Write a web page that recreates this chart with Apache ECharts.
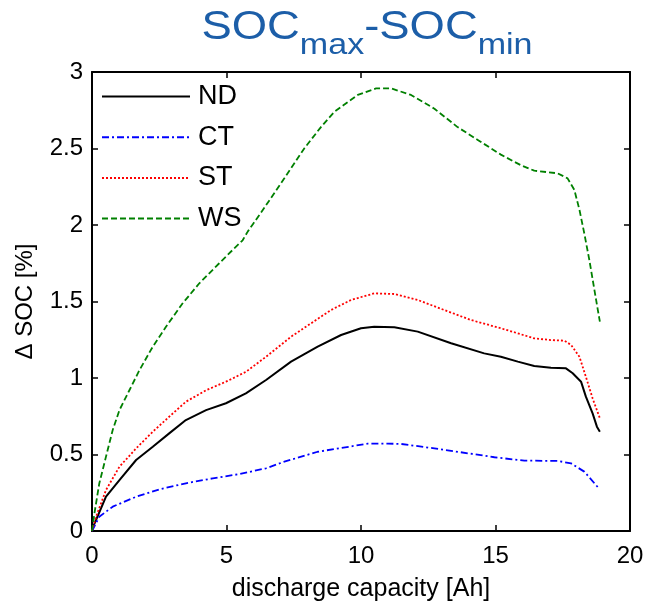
<!DOCTYPE html>
<html>
<head>
<meta charset="utf-8">
<script src="https://cdn.jsdelivr.net/npm/echarts@6/dist/echarts.min.js"></script>
<style>
html,body{margin:0;padding:0;background:#fff;}
#chart{width:645px;height:602px;}
</style>
</head>
<body>
<div id="chart"></div>
<script>
// ---- data ----
const seriesNames = ['ND', 'CT', 'ST', 'WS'];
const xTicks = [0, 5, 10, 15, 20];
const yTicks = [0, 0.5, 1, 1.5, 2, 2.5, 3];

const ndX = [0, 0.05, 0.15, 0.52, 1.02, 1.64, 2.26, 2.87, 3.49, 4.24, 4.98, 5.72, 6.47, 7.40, 8.39, 9.26, 10.0, 10.49, 11.24, 12.11, 13.35, 14.58, 15.20, 15.83, 16.44, 17.06, 17.62, 17.87, 18.18, 18.36, 18.61, 18.77, 18.88];
const ndY = [0, 0.03, 0.072, 0.224, 0.333, 0.464, 0.551, 0.638, 0.725, 0.79, 0.835, 0.90, 0.987, 1.107, 1.205, 1.281, 1.325, 1.335, 1.331, 1.303, 1.227, 1.161, 1.139, 1.107, 1.078, 1.067, 1.063, 1.031, 0.976, 0.878, 0.769, 0.682, 0.649];

const ctX = [0, 0.27, 0.77, 1.64, 2.50, 3.49, 4.49, 5.48, 6.47, 7.15, 8.39, 9.63, 10.25, 11.0, 11.49, 12.73, 13.97, 14.96, 16.07, 17.31, 17.81, 18.30, 18.86];
const ctY = [0, 0.093, 0.159, 0.224, 0.272, 0.312, 0.344, 0.372, 0.41, 0.453, 0.518, 0.553, 0.571, 0.571, 0.569, 0.54, 0.508, 0.482, 0.46, 0.458, 0.442, 0.388, 0.275];

const stX = [0, 0.15, 0.52, 1.02, 1.64, 2.26, 2.87, 3.49, 4.24, 4.98, 5.72, 6.47, 7.40, 8.14, 8.88, 9.63, 10.49, 11.24, 12.11, 13.10, 14.09, 15.20, 15.83, 16.44, 17.06, 17.56, 17.81, 18.12, 18.36, 18.61, 18.88];
const stY = [0, 0.093, 0.268, 0.42, 0.54, 0.649, 0.747, 0.845, 0.92, 0.976, 1.04, 1.139, 1.27, 1.357, 1.444, 1.51, 1.553, 1.549, 1.51, 1.444, 1.379, 1.325, 1.292, 1.259, 1.248, 1.244, 1.216, 1.139, 1.008, 0.867, 0.737];

const wsX = [0, 0.09, 0.27, 0.52, 0.77, 1.02, 1.39, 1.76, 2.26, 2.75, 3.37, 3.99, 4.73, 5.23, 5.6, 5.8, 6.0, 6.28, 7.15, 7.89, 8.51, 9.01, 9.88, 10.56, 11.12, 11.86, 12.73, 13.59, 14.34, 15.20, 15.95, 16.44, 17.31, 17.68, 17.93, 18.12, 18.30, 18.49, 18.74, 18.88];
const wsY = [0, 0.115, 0.31, 0.486, 0.66, 0.79, 0.92, 1.05, 1.205, 1.335, 1.488, 1.619, 1.75, 1.837, 1.90, 1.96, 2.01, 2.08, 2.305, 2.50, 2.64, 2.74, 2.85, 2.893, 2.893, 2.85, 2.76, 2.64, 2.556, 2.46, 2.39, 2.355, 2.338, 2.305, 2.23, 2.10, 1.946, 1.77, 1.51, 1.368];

function pairs(xs, ys) { return xs.map((x, i) => [x, ys[i]]); }

const FONT = 'Liberation Sans, Arial, sans-serif';
const chart = echarts.init(document.getElementById('chart'), null, { renderer: 'canvas' });

const xMin = xTicks[0], xMax = xTicks[xTicks.length - 1], xInt = xTicks[1] - xTicks[0];
const yMin = yTicks[0], yMax = yTicks[yTicks.length - 1], yInt = yTicks[1] - yTicks[0];

const axisCommon = {
  type: 'value',
  axisLine: { show: true, onZero: false, lineStyle: { color: '#000', width: 2 } },
  axisTick: { show: true, inside: true, length: 6, lineStyle: { color: '#000', width: 1.5 } },
  splitLine: { show: false }
};

function lineSeries(name, data, color, type, width) {
  return {
    name: name, type: 'line', data: data, symbol: 'none', smooth: false,
    xAxisIndex: 0, yAxisIndex: 0,
    lineStyle: { color: color, width: width, type: type },
    itemStyle: { color: color },
    animation: false
  };
}

chart.setOption({
  animation: false,
  backgroundColor: '#fff',
  grid: { left: 92, right: 15, top: 72, bottom: 71, containLabel: false, outerBoundsMode: 'none' },
  xAxis: [
    Object.assign({}, axisCommon, {
      position: 'bottom', min: xMin, max: xMax, interval: xInt,
      name: 'discharge capacity [Ah]', nameLocation: 'middle', nameGap: 46,
      nameTextStyle: { fontFamily: FONT, fontSize: 25, color: '#000' },
      axisLabel: { fontFamily: FONT, fontSize: 24, color: '#000', margin: 13 }
    }),
    Object.assign({}, axisCommon, {
      position: 'top', min: xMin, max: xMax, interval: xInt,
      axisLabel: { show: false }
    })
  ],
  yAxis: [
    Object.assign({}, axisCommon, {
      position: 'left', min: yMin, max: yMax, interval: yInt,
      name: '\u0394 SOC [%]', nameLocation: 'middle', nameGap: 55, nameRotate: 90,
      nameTextStyle: { fontFamily: FONT, fontSize: 24, color: '#000' },
      axisLabel: { fontFamily: FONT, fontSize: 24, color: '#000', margin: 9 }
    }),
    Object.assign({}, axisCommon, {
      position: 'right', min: yMin, max: yMax, interval: yInt,
      axisLabel: { show: false }
    })
  ],
  legend: {
    data: seriesNames,
    orient: 'vertical',
    left: 101, top: 83,
    padding: 0,
    itemWidth: 88, itemHeight: 20, itemGap: 13.7,
    itemStyle: { color: 'rgba(0,0,0,0)', borderColor: 'rgba(0,0,0,0)', borderWidth: 0 },
    textStyle: { fontFamily: FONT, fontSize: 27, color: '#000', padding: [0, 0, 0, 3] }
  },
  graphic: [{
    type: 'text',
    x: 367, y: 7.6,
    scaleX: 1.135,
    style: {
      text: '{a|SOC}{b|max}{a|-SOC}{b|min}',
      align: 'center', verticalAlign: 'top',
      fill: '#1c5ea8',
      rich: {
        a: { fontFamily: FONT, fontSize: 40, fill: '#1c5ea8', lineHeight: 40, verticalAlign: 'top' },
        b: { fontFamily: FONT, fontSize: 30, fill: '#1c5ea8', lineHeight: 53, verticalAlign: 'bottom' }
      }
    }
  }],
  series: [
    lineSeries('ND', pairs(ndX, ndY), '#000000', 'solid', 2),
    lineSeries('CT', pairs(ctX, ctY), '#0000ff', [7, 3, 2, 3], 1.8),
    lineSeries('ST', pairs(stX, stY), '#ff0000', [2, 2], 1.8),
    lineSeries('WS', pairs(wsX, wsY), '#008000', [6, 3], 1.8)
  ]
});
</script>
</body>
</html>
